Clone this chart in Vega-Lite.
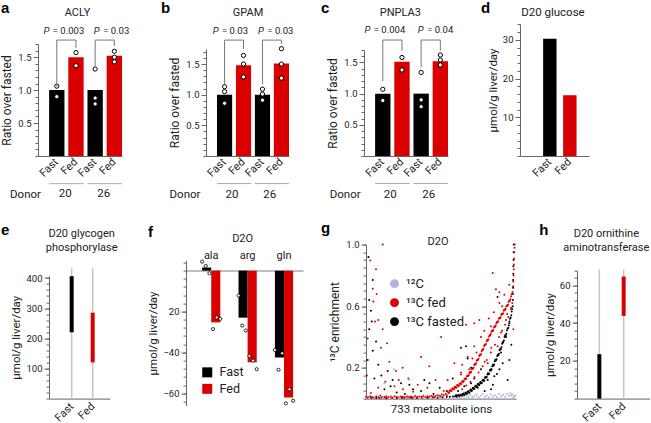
{
"$schema":"https://vega.github.io/schema/vega-lite/v6.json",
"padding":0,
"background":"white",
"config":{
 "font":"Roboto",
 "view":{"stroke":null},
 "axis":{"labelFont":"Roboto","titleFont":"Roboto","labelFontSize":9.5,"titleFontSize":12,"titleFontWeight":"normal","labelColor":"#222","titleColor":"#222","domainColor":"#666","tickColor":"#666","grid":false,"labelPadding":2,"titlePadding":4,"labelOverlap":false},
 "axisX":{"labelFontSize":11},
 "text":{"font":"Roboto","fontSize":10,"color":"#222"},
 "legend":{"labelFont":"Roboto","labelColor":"#222","padding":0}
},
"spacing":19.6,
"bounds":"full",
"resolve":{"scale":{"color":"independent","x":"independent","y":"independent"}},
"vconcat":[
{"hconcat":[
{
 "width":168,"height":132,
 "resolve":{"axis":{"y":"independent"}},
 "layer":[
 {"layer":[
  {"data":{"values":[{"k":"Fast 20","c":"Fast","v":1.0},{"k":"Fed 20","c":"Fed","v":1.5},{"k":"Fast 26","c":"Fast","v":1.0},{"k":"Fed 26","c":"Fed","v":1.52}]},
   "mark":{"type":"bar"},
   "encoding":{
    "x":{"field":"k","type":"nominal","scale":{"type":"band","domain":["Fast 20","Fed 20","Fast 26","Fed 26"],"range":[0,84],"paddingInner":0.2,"paddingOuter":0.29,"align":1},
     "axis":{"title":"Donor","titleX":-13,"titleY":38.5,"titleAngle":0,"titleAlign":"center","titleBaseline":"middle","titleFontSize":11.5,"labelExpr":"split(datum.label,' ')[0]","labelAngle":-45,"labelAlign":"right","labelBaseline":"middle","labelPadding":4,"ticks":false}},
    "y":{"field":"v","type":"quantitative","scale":{"domain":[0,1.7],"range":[132,20],"nice":false},
     "axis":{"orient":"left","title":"Ratio over fasted","values":[0.5,1,1.5],"format":".1f","tickSize":5}},
    "color":{"field":"c","type":"nominal","scale":{"domain":["Fast","Fed"],"range":["#000000","#d90000"]},"legend":null}
   }},
  {"data":{"values":[{"k":"Fast 20","v":1.06},{"k":"Fast 20","v":0.9},{"k":"Fed 20","v":1.57},{"k":"Fed 20","v":1.37},{"k":"Fast 26","v":1.32},{"k":"Fast 26","v":0.88},{"k":"Fast 26","v":0.79},{"k":"Fed 26","v":1.59},{"k":"Fed 26","v":1.5},{"k":"Fed 26","v":1.43}]},
   "mark":{"type":"point","shape":"circle","filled":true,"fill":"#ffffff","stroke":"#000000","strokeWidth":1,"size":18,"opacity":1},
   "encoding":{"x":{"field":"k","type":"nominal"},"y":{"field":"v","type":"quantitative"}}},
  {"data":{"values":[{"b":1,"o":1,"k":"Fast 20","v":1.05},{"b":1,"o":2,"k":"Fast 20","v":1.76},{"b":1,"o":3,"k":"Fed 20","v":1.76},{"b":1,"o":4,"k":"Fed 20","v":1.64},{"b":2,"o":1,"k":"Fast 26","v":1.36},{"b":2,"o":2,"k":"Fast 26","v":1.76},{"b":2,"o":3,"k":"Fed 26","v":1.76},{"b":2,"o":4,"k":"Fed 26","v":1.67}]},
   "mark":{"type":"line","color":"#777777","strokeWidth":1},
   "encoding":{"x":{"field":"k","type":"nominal"},"y":{"field":"v","type":"quantitative"},"detail":{"field":"b","type":"nominal"},"order":{"field":"o","type":"quantitative"}}},
  {"data":{"values":[{"k":"Fed 20"}]},"mark":{"type":"text","text":"P","fontStyle":"italic","align":"right","baseline":"middle","dx":-19,"fontSize":9.5},"encoding":{"x":{"field":"k","type":"nominal","bandPosition":0},"y":{"datum":1.9}}},
  {"data":{"values":[{"k":"Fed 20","t":"= 0.003"}]},"mark":{"type":"text","align":"left","baseline":"middle","dx":-15.5,"fontSize":9.5},"encoding":{"x":{"field":"k","type":"nominal","bandPosition":0},"y":{"datum":1.9},"text":{"field":"t"}}},
  {"data":{"values":[{"k":"Fed 26"}]},"mark":{"type":"text","text":"P","fontStyle":"italic","align":"right","baseline":"middle","dx":-7,"fontSize":9.5},"encoding":{"x":{"field":"k","type":"nominal","bandPosition":0},"y":{"datum":1.9}}},
  {"data":{"values":[{"k":"Fed 26","t":"= 0.03"}]},"mark":{"type":"text","align":"left","baseline":"middle","dx":-3.5,"fontSize":9.5},"encoding":{"x":{"field":"k","type":"nominal","bandPosition":0},"y":{"datum":1.9},"text":{"field":"t"}}},
  {"data":{"values":[{"k":"Fed 20","t":"ACLY"}]},"mark":{"type":"text","align":"center","baseline":"middle","fontSize":11},"encoding":{"x":{"field":"k","type":"nominal","bandPosition":0.6},"y":{"datum":2.17},"text":{"field":"t"}}},
  {"data":{"values":[{"k":"Fast 20","t":"a"}]},"mark":{"type":"text","align":"left","baseline":"alphabetic","dx":-48.1,"font":"Liberation Sans","fontSize":15,"fontWeight":"bold","color":"#000000"},"encoding":{"x":{"field":"k","type":"nominal","bandPosition":0},"y":{"datum":2.175},"text":{"field":"t"}}},
  {"data":{"values":[{"k":"Fast 20","k2":"Fed 20"},{"k":"Fast 26","k2":"Fed 26"}]},"mark":{"type":"rule","color":"#aaaaaa","strokeWidth":1},"encoding":{"x":{"field":"k","type":"nominal","bandPosition":0},"x2":{"field":"k2","bandPosition":1},"y":{"datum":-0.42}}},
  {"data":{"values":[{"k":"Fed 20","t":"20"},{"k":"Fed 26","t":"26"}]},"mark":{"type":"text","align":"center","baseline":"middle","fontSize":11.5,"dx":-3},"encoding":{"x":{"field":"k","type":"nominal","bandPosition":0},"y":{"datum":-0.58},"text":{"field":"t"}}}
 ]},
 {"data":{"values":[{"v":0}]},"mark":{"type":"point","opacity":0},"encoding":{"y":{"field":"v","type":"quantitative","axis":{"orient":"left","values":[0,0.1,0.2,0.3,0.4,0.5,0.6,0.7,0.8,0.9,1,1.1,1.2,1.3,1.4,1.5,1.6,1.7],"labels":false,"domain":false,"title":null,"tickSize":3}}}}
 ]
},
{
 "width":158,"height":132,
 "resolve":{"axis":{"y":"independent"}},
 "layer":[
 {"layer":[
  {"data":{"values":[{"k":"Fast 20","c":"Fast","v":1.0},{"k":"Fed 20","c":"Fed","v":1.48},{"k":"Fast 26","c":"Fast","v":1.0},{"k":"Fed 26","c":"Fed","v":1.51}]},
   "mark":{"type":"bar"},
   "encoding":{
    "x":{"field":"k","type":"nominal","scale":{"type":"band","domain":["Fast 20","Fed 20","Fast 26","Fed 26"],"range":[0,83],"paddingInner":0.2,"paddingOuter":0.29,"align":1},
     "axis":{"title":"Donor","titleX":-21.5,"titleY":38.5,"titleAngle":0,"titleAlign":"center","titleBaseline":"middle","titleFontSize":11.5,"labelExpr":"split(datum.label,' ')[0]","labelAngle":-45,"labelAlign":"right","labelBaseline":"middle","labelPadding":4,"ticks":false}},
    "y":{"field":"v","type":"quantitative","scale":{"domain":[0,1.745],"range":[132,25],"nice":false},
     "axis":{"orient":"left","title":"Ratio over fasted","values":[0.5,1,1.5],"format":".1f","tickSize":5}},
    "color":{"field":"c","type":"nominal","scale":{"domain":["Fast","Fed"],"range":["#000000","#d90000"]},"legend":null}
   }},
  {"data":{"values":[{"k":"Fast 20","v":1.13},{"k":"Fast 20","v":1.05},{"k":"Fast 20","v":0.86},{"k":"Fed 20","v":1.64},{"k":"Fed 20","v":1.5},{"k":"Fed 20","v":1.29},{"k":"Fast 26","v":1.09},{"k":"Fast 26","v":1.01},{"k":"Fast 26","v":0.91},{"k":"Fed 26","v":1.75},{"k":"Fed 26","v":1.5},{"k":"Fed 26","v":1.27}]},
   "mark":{"type":"point","shape":"circle","filled":true,"fill":"#ffffff","stroke":"#000000","strokeWidth":1,"size":18,"opacity":1},
   "encoding":{"x":{"field":"k","type":"nominal"},"y":{"field":"v","type":"quantitative"}}},
  {"data":{"values":[{"b":1,"o":1,"k":"Fast 20","v":1.17},{"b":1,"o":2,"k":"Fast 20","v":1.89},{"b":1,"o":3,"k":"Fed 20","v":1.89},{"b":1,"o":4,"k":"Fed 20","v":1.745},{"b":2,"o":1,"k":"Fast 26","v":1.17},{"b":2,"o":2,"k":"Fast 26","v":1.89},{"b":2,"o":3,"k":"Fed 26","v":1.89},{"b":2,"o":4,"k":"Fed 26","v":1.83}]},
   "mark":{"type":"line","color":"#777777","strokeWidth":1},
   "encoding":{"x":{"field":"k","type":"nominal"},"y":{"field":"v","type":"quantitative"},"detail":{"field":"b","type":"nominal"},"order":{"field":"o","type":"quantitative"}}},
  {"data":{"values":[{"k":"Fed 20"}]},"mark":{"type":"text","text":"P","fontStyle":"italic","align":"right","baseline":"middle","dx":-17.5,"fontSize":9.5},"encoding":{"x":{"field":"k","type":"nominal","bandPosition":0},"y":{"datum":2.04}}},
  {"data":{"values":[{"k":"Fed 20","t":"= 0.03"}]},"mark":{"type":"text","align":"left","baseline":"middle","dx":-14,"fontSize":9.5},"encoding":{"x":{"field":"k","type":"nominal","bandPosition":0},"y":{"datum":2.04},"text":{"field":"t"}}},
  {"data":{"values":[{"k":"Fed 26"}]},"mark":{"type":"text","text":"P","fontStyle":"italic","align":"right","baseline":"middle","dx":-10,"fontSize":9.5},"encoding":{"x":{"field":"k","type":"nominal","bandPosition":0},"y":{"datum":2.04}}},
  {"data":{"values":[{"k":"Fed 26","t":"= 0.03"}]},"mark":{"type":"text","align":"left","baseline":"middle","dx":-6.5,"fontSize":9.5},"encoding":{"x":{"field":"k","type":"nominal","bandPosition":0},"y":{"datum":2.04},"text":{"field":"t"}}},
  {"data":{"values":[{"k":"Fed 20","t":"GPAM"}]},"mark":{"type":"text","align":"center","baseline":"middle","fontSize":11},"encoding":{"x":{"field":"k","type":"nominal","bandPosition":0.8},"y":{"datum":2.33},"text":{"field":"t"}}},
  {"data":{"values":[{"k":"Fast 20","t":"b"}]},"mark":{"type":"text","align":"left","baseline":"alphabetic","dx":-56,"font":"Liberation Sans","fontSize":15,"fontWeight":"bold","color":"#000000"},"encoding":{"x":{"field":"k","type":"nominal","bandPosition":0},"y":{"datum":2.338},"text":{"field":"t"}}},
  {"data":{"values":[{"k":"Fast 20","k2":"Fed 20"},{"k":"Fast 26","k2":"Fed 26"}]},"mark":{"type":"rule","color":"#aaaaaa","strokeWidth":1},"encoding":{"x":{"field":"k","type":"nominal","bandPosition":0},"x2":{"field":"k2","bandPosition":1},"y":{"datum":-0.45}}},
  {"data":{"values":[{"k":"Fed 20","t":"20"},{"k":"Fed 26","t":"26"}]},"mark":{"type":"text","align":"center","baseline":"middle","fontSize":11.5,"dx":-4},"encoding":{"x":{"field":"k","type":"nominal","bandPosition":0},"y":{"datum":-0.63},"text":{"field":"t"}}}
 ]},
 {"data":{"values":[{"v":0}]},"mark":{"type":"point","opacity":0},"encoding":{"y":{"field":"v","type":"quantitative","axis":{"orient":"left","values":[0,0.1,0.2,0.3,0.4,0.5,0.6,0.7,0.8,0.9,1,1.1,1.2,1.3,1.4,1.5,1.6,1.7],"labels":false,"domain":false,"title":null,"tickSize":3}}}}
 ]
},
{
 "width":156,"height":132,
 "resolve":{"axis":{"y":"independent"}},
 "layer":[
 {"layer":[
  {"data":{"values":[{"k":"Fast 20","c":"Fast","v":1.0},{"k":"Fed 20","c":"Fed","v":1.51},{"k":"Fast 26","c":"Fast","v":1.0},{"k":"Fed 26","c":"Fed","v":1.52}]},
   "mark":{"type":"bar"},
   "encoding":{
    "x":{"field":"k","type":"nominal","scale":{"type":"band","domain":["Fast 20","Fed 20","Fast 26","Fed 26"],"range":[0,84],"paddingInner":0.2,"paddingOuter":0.29,"align":1},
     "axis":{"title":"Donor","titleX":-19.3,"titleY":38.5,"titleAngle":0,"titleAlign":"center","titleBaseline":"middle","titleFontSize":11.5,"labelExpr":"split(datum.label,' ')[0]","labelAngle":-45,"labelAlign":"right","labelBaseline":"middle","labelPadding":4,"ticks":false}},
    "y":{"field":"v","type":"quantitative","scale":{"domain":[0,1.7],"range":[132,26],"nice":false},
     "axis":{"orient":"left","title":"Ratio over fasted","values":[0.5,1,1.5],"format":".1f","tickSize":5}},
    "color":{"field":"c","type":"nominal","scale":{"domain":["Fast","Fed"],"range":["#000000","#d90000"]},"legend":null}
   }},
  {"data":{"values":[{"k":"Fast 20","v":1.07},{"k":"Fast 20","v":0.89},{"k":"Fed 20","v":1.58},{"k":"Fed 20","v":1.38},{"k":"Fast 26","v":1.34},{"k":"Fast 26","v":0.9},{"k":"Fast 26","v":0.79},{"k":"Fed 26","v":1.62},{"k":"Fed 26","v":1.54},{"k":"Fed 26","v":1.46}]},
   "mark":{"type":"point","shape":"circle","filled":true,"fill":"#ffffff","stroke":"#000000","strokeWidth":1,"size":18,"opacity":1},
   "encoding":{"x":{"field":"k","type":"nominal"},"y":{"field":"v","type":"quantitative"}}},
  {"data":{"values":[{"b":1,"o":1,"k":"Fast 20","v":1.2},{"b":1,"o":2,"k":"Fast 20","v":1.86},{"b":1,"o":3,"k":"Fed 20","v":1.86},{"b":1,"o":4,"k":"Fed 20","v":1.69},{"b":2,"o":1,"k":"Fast 26","v":1.42},{"b":2,"o":2,"k":"Fast 26","v":1.86},{"b":2,"o":3,"k":"Fed 26","v":1.86},{"b":2,"o":4,"k":"Fed 26","v":1.69}]},
   "mark":{"type":"line","color":"#777777","strokeWidth":1},
   "encoding":{"x":{"field":"k","type":"nominal"},"y":{"field":"v","type":"quantitative"},"detail":{"field":"b","type":"nominal"},"order":{"field":"o","type":"quantitative"}}},
  {"data":{"values":[{"k":"Fed 20"}]},"mark":{"type":"text","text":"P","fontStyle":"italic","align":"right","baseline":"middle","dx":-24,"fontSize":9.5},"encoding":{"x":{"field":"k","type":"nominal","bandPosition":0},"y":{"datum":2.02}}},
  {"data":{"values":[{"k":"Fed 20","t":"= 0.004"}]},"mark":{"type":"text","align":"left","baseline":"middle","dx":-20.5,"fontSize":9.5},"encoding":{"x":{"field":"k","type":"nominal","bandPosition":0},"y":{"datum":2.02},"text":{"field":"t"}}},
  {"data":{"values":[{"k":"Fed 26"}]},"mark":{"type":"text","text":"P","fontStyle":"italic","align":"right","baseline":"middle","dx":-9,"fontSize":9.5},"encoding":{"x":{"field":"k","type":"nominal","bandPosition":0},"y":{"datum":2.02}}},
  {"data":{"values":[{"k":"Fed 26","t":"= 0.04"}]},"mark":{"type":"text","align":"left","baseline":"middle","dx":-5.5,"fontSize":9.5},"encoding":{"x":{"field":"k","type":"nominal","bandPosition":0},"y":{"datum":2.02},"text":{"field":"t"}}},
  {"data":{"values":[{"k":"Fed 20","t":"PNPLA3"}]},"mark":{"type":"text","align":"center","baseline":"middle","fontSize":11},"encoding":{"x":{"field":"k","type":"nominal","bandPosition":0.39},"y":{"datum":2.3},"text":{"field":"t"}}},
  {"data":{"values":[{"k":"Fast 20","t":"c"}]},"mark":{"type":"text","align":"left","baseline":"alphabetic","dx":-54.1,"font":"Liberation Sans","fontSize":15,"fontWeight":"bold","color":"#000000"},"encoding":{"x":{"field":"k","type":"nominal","bandPosition":0},"y":{"datum":2.298},"text":{"field":"t"}}},
  {"data":{"values":[{"k":"Fast 20","k2":"Fed 20"},{"k":"Fast 26","k2":"Fed 26"}]},"mark":{"type":"rule","color":"#aaaaaa","strokeWidth":1},"encoding":{"x":{"field":"k","type":"nominal","bandPosition":0},"x2":{"field":"k2","bandPosition":1},"y":{"datum":-0.44}}},
  {"data":{"values":[{"k":"Fed 20","t":"20"},{"k":"Fed 26","t":"26"}]},"mark":{"type":"text","align":"center","baseline":"middle","fontSize":11.5,"dx":-4},"encoding":{"x":{"field":"k","type":"nominal","bandPosition":0},"y":{"datum":-0.62},"text":{"field":"t"}}}
 ]},
 {"data":{"values":[{"v":0}]},"mark":{"type":"point","opacity":0},"encoding":{"y":{"field":"v","type":"quantitative","axis":{"orient":"left","values":[0,0.1,0.2,0.3,0.4,0.5,0.6,0.7,0.8,0.9,1,1.1,1.2,1.3,1.4,1.5,1.6,1.7],"labels":false,"domain":false,"title":null,"tickSize":3}}}}
 ]
},
{
 "width":69,"height":132,
 "resolve":{"axis":{"y":"independent"}},
 "layer":[
 {"layer":[
  {"data":{"values":[{"c":"Fast","v":30.3},{"c":"Fed","v":15.7}]},
   "mark":{"type":"bar"},
   "encoding":{
    "x":{"field":"c","type":"nominal","scale":{"type":"band","domain":["Fast","Fed"],"range":[0,69],"paddingInner":0.33,"paddingOuter":0.89,"align":0.65},"axis":{"title":null,"labelAngle":-45,"labelAlign":"right","labelBaseline":"middle","labelPadding":4,"ticks":false}},
    "y":{"field":"v","type":"quantitative","scale":{"domain":[0,34.1],"range":[132,0],"nice":false},
     "axis":{"orient":"left","title":"μmol/g liver/day","titleFontSize":11.5,"values":[10,20,30],"tickSize":5}},
    "color":{"field":"c","type":"nominal","scale":{"domain":["Fast","Fed"],"range":["#000000","#d90000"]},"legend":null}
   }},
  {"data":{"values":[{"c":"Fast","t":"D20 glucose"}]},"mark":{"type":"text","align":"left","baseline":"middle","dx":-22,"fontSize":11.5},"encoding":{"x":{"field":"c","type":"nominal","bandPosition":0},"y":{"datum":37},"text":{"field":"t"}}},
  {"data":{"values":[{"c":"Fast","t":"d"}]},"mark":{"type":"text","align":"left","baseline":"alphabetic","dx":-62.1,"font":"Liberation Sans","fontSize":15,"fontWeight":"bold","color":"#000000"},"encoding":{"x":{"field":"c","type":"nominal","bandPosition":0},"y":{"datum":37.02},"text":{"field":"t"}}}
 ]},
 {"data":{"values":[{"v":0}]},"mark":{"type":"point","opacity":0},"encoding":{"y":{"field":"v","type":"quantitative","axis":{"orient":"left","values":[0,2,4,6,8,10,12,14,16,18,20,22,24,26,28,30,32,34],"labels":false,"domain":false,"title":null,"tickSize":3}}}}
 ]
}
],"spacing":0,"bounds":"flush","resolve":{"scale":{"color":"independent","x":"independent","y":"independent"}}},
{"hconcat":[
{
 "width":148,"height":154,
 "resolve":{"axis":{"y":"independent"}},
 "layer":[
 {"layer":[
  {"data":{"values":[{"c":"Fast"},{"c":"Fed"}]},"mark":{"type":"rule","color":"#c4c4c4","strokeWidth":1.5},
   "encoding":{
    "x":{"field":"c","type":"nominal","scale":{"type":"point","domain":["Fast","Fed"],"range":[11,72],"padding":0.952,"align":0.567},"axis":{"title":null,"labelAngle":-45,"labelAlign":"right","labelBaseline":"middle","labelPadding":6,"ticks":false}},
    "y":{"datum":0,"type":"quantitative","scale":{"domain":[0,407],"range":[154,31.3],"nice":false},
     "axis":{"orient":"left","title":"μmol/g liver/day","titleFontSize":11.5,"offset":-11,"values":[100,200,300,400],"tickSize":5}},
    "y2":{"datum":432}}},
  {"data":{"values":[{"c":"Fast","lo":220,"hi":406},{"c":"Fed","lo":120,"hi":285}]},"mark":{"type":"rule","strokeWidth":4},
   "encoding":{"x":{"field":"c","type":"nominal"},"y":{"field":"lo","type":"quantitative"},"y2":{"field":"hi"},"color":{"field":"c","type":"nominal","scale":{"domain":["Fast","Fed"],"range":["#000000","#d90000"]},"legend":null}}},
  {"data":{"values":[{"c":"Fast","t":"D20 glycogen\nphosphorylase"}]},"mark":{"type":"text","lineBreak":"\n","align":"center","baseline":"middle","dx":10,"fontSize":11,"lineHeight":13.5},"encoding":{"x":{"field":"c","type":"nominal"},"y":{"datum":545},"text":{"field":"t"}}},
  {"data":{"values":[{"c":"Fast","t":"e"}]},"mark":{"type":"text","align":"left","baseline":"alphabetic","dx":-70.7,"font":"Liberation Sans","fontSize":15,"fontWeight":"bold","color":"#000000"},"encoding":{"x":{"field":"c","type":"nominal"},"y":{"datum":544},"text":{"field":"t"}}}
 ]},
 {"data":{"values":[{"v":0}]},"mark":{"type":"point","opacity":0},"encoding":{"y":{"field":"v","type":"quantitative","axis":{"orient":"left","offset":-11,"values":[0,20,40,60,80,100,120,140,160,180,200,220,240,260,280,300,320,340,360,380,400],"labels":false,"domain":false,"title":null,"tickSize":3}}}}
 ]
},
{
 "width":180,"height":161,
 "resolve":{"axis":{"y":"independent"}},
 "layer":[
 {"resolve":{"scale":{"xOffset":"independent"}},
  "layer":[
  {"data":{"values":[{"aa":"ala","c":"Fast","v":1.5},{"aa":"ala","c":"Fed","v":-25.3},{"aa":"arg","c":"Fast","v":-23},{"aa":"arg","c":"Fed","v":-44.8},{"aa":"gln","c":"Fast","v":-42.5},{"aa":"gln","c":"Fed","v":-62}]},
   "mark":{"type":"bar"},
   "encoding":{
    "x":{"field":"aa","type":"nominal","scale":{"type":"band","domain":["ala","arg","gln"],"range":[0,117],"paddingInner":0.5,"paddingOuter":0.357,"align":0.62},"axis":{"orient":"top","offset":-26,"title":null,"ticks":false,"labelPadding":10,"labelAngle":0,"domainColor":"#aaaaaa","domainWidth":1.5}},
    "xOffset":{"field":"c","type":"nominal","scale":{"domain":["Fast","Fed"],"paddingInner":0,"paddingOuter":0}},
    "y":{"field":"v","type":"quantitative","scale":{"domain":[-66,5],"range":[161,15.8],"nice":false},
     "axis":{"orient":"left","title":"μmol/g liver/day","titleFontSize":11.5,"values":[-60,-40,-20],"labelExpr":"datum.value==-20 ? '20' : format(datum.value,'d')","tickSize":5}},
    "color":{"field":"c","type":"nominal","scale":{"domain":["Fast","Fed"],"range":["#000000","#d90000"]},"legend":{"orient":"none","legendX":15,"legendY":121.5,"title":null,"symbolType":"square","symbolSize":100,"symbolStrokeWidth":0,"labelFontSize":12.5,"rowPadding":3.5,"labelOffset":6}}
   }},
  {"data":{"values":[{"aa":"ala","cr":"Fast1","v":4.4},{"aa":"ala","cr":"Fast2","v":2.3},{"aa":"ala","cr":"Fast3","v":-1.3},{"aa":"ala","cr":"Fed1","v":-28.6},{"aa":"ala","cr":"Fed2","v":-22.9},{"aa":"ala","cr":"Fed3","v":-23.6},{"aa":"arg","cr":"Fast1","v":-12.2},{"aa":"arg","cr":"Fast2","v":-26.9},{"aa":"arg","cr":"Fast3","v":-29.3},{"aa":"arg","cr":"Fed1","v":-41.7},{"aa":"arg","cr":"Fed2","v":-44},{"aa":"arg","cr":"Fed3","v":-48.2},{"aa":"gln","cr":"Fast1","v":-38.8},{"aa":"gln","cr":"Fast2","v":-48.5},{"aa":"gln","cr":"Fast3","v":-40.4},{"aa":"gln","cr":"Fed1","v":-64.9},{"aa":"gln","cr":"Fed2","v":-58},{"aa":"gln","cr":"Fed3","v":-63.6}]},
   "mark":{"type":"point","shape":"circle","filled":true,"fill":"#ffffff","stroke":"#000000","strokeWidth":0.8,"size":10,"opacity":1},
   "encoding":{"x":{"field":"aa","type":"nominal"},"xOffset":{"field":"cr","type":"nominal","scale":{"domain":["Fast1","Fast2","Fast3","Fed1","Fed2","Fed3"],"paddingInner":0,"paddingOuter":0}},"y":{"field":"v","type":"quantitative"}}},
  {"data":{"values":[{"aa":"arg","t":"D2O"}]},"mark":{"type":"text","align":"center","baseline":"middle","fontSize":11,"dx":-5},"encoding":{"x":{"field":"aa","type":"nominal"},"y":{"datum":15.6},"text":{"field":"t"}}},
  {"data":{"values":[{"aa":"ala","t":"f"}]},"mark":{"type":"text","align":"left","baseline":"alphabetic","dx":-54.1,"font":"Liberation Sans","fontSize":15,"fontWeight":"bold","color":"#000000"},"encoding":{"x":{"field":"aa","type":"nominal","bandPosition":0},"y":{"datum":16.6},"text":{"field":"t"}}}
 ]},
 {"data":{"values":[{"v":0}]},"mark":{"type":"point","opacity":0},"encoding":{"y":{"field":"v","type":"quantitative","axis":{"orient":"left","values":[-64,-60,-56,-52,-48,-44,-40,-36,-32,-28,-24,-20,-16,-12,-8,-4,0,4],"labels":false,"domain":false,"title":null,"tickSize":3}}}}
 ]
},
{
 "width":211,"height":154,
 "resolve":{"axis":{"y":"independent"}},
 "layer":[
 {"layer":[
  {"data":{"values":[
{"r":33,"v":0.77},{"r":16,"v":0.64},{"r":24,"v":0.57},{"r":16,"v":0.45},{"r":49,"v":0.37},{"r":33,"v":0.31},{"r":106,"v":0.18},{"r":41,"v":0.13},{"r":130,"v":0.12},{"r":171,"v":0.1},{"r":212,"v":0.09},{"r":285,"v":0.12},{"r":424,"v":0.13},{"r":90,"v":0.06},{"r":269,"v":0.05},{"r":8,"v":0.25},{"r":60,"v":0.22},{"r":150,"v":0.04},{"r":190,"v":0.03},{"r":230,"v":0.06},{"r":330,"v":0.03},{"r":360,"v":0.07},{"r":395,"v":0.05},{"r":12,"v":0.92},{"r":28,"v":0.5},{"r":75,"v":0.15},{"r":120,"v":0.08},{"r":310,"v":0.1},
{"r":0,"v":0.003},{"r":25,"v":0.005},{"r":50,"v":0.004},{"r":75,"v":0.006},{"r":100,"v":0.003},{"r":125,"v":0.005},{"r":150,"v":0.004},{"r":175,"v":0.006},{"r":200,"v":0.003},{"r":225,"v":0.005},{"r":250,"v":0.004},{"r":275,"v":0.006},{"r":300,"v":0.005},{"r":325,"v":0.007},{"r":350,"v":0.006},{"r":375,"v":0.009},{"r":395,"v":0.01},{"r":410,"v":0.012},{"r":425,"v":0.013},{"r":435,"v":0.016},
{"r":440,"v":0.021},{"r":446,"v":0.013},{"r":452,"v":0.024},{"r":458,"v":0.015},{"r":464,"v":0.026},{"r":470,"v":0.018},{"r":476,"v":0.033},{"r":482,"v":0.025},{"r":488,"v":0.04},{"r":494,"v":0.031},{"r":500,"v":0.047},{"r":506,"v":0.04},{"r":512,"v":0.059},{"r":518,"v":0.052},{"r":524,"v":0.071},{"r":530,"v":0.064},{"r":536,"v":0.084},{"r":542,"v":0.077},{"r":548,"v":0.096},{"r":554,"v":0.088},{"r":560,"v":0.108},{"r":566,"v":0.102},{"r":572,"v":0.123},{"r":578,"v":0.117},{"r":584,"v":0.141},{"r":590,"v":0.14},{"r":596,"v":0.164},{"r":602,"v":0.163},{"r":608,"v":0.189},{"r":614,"v":0.19},{"r":620,"v":0.219},{"r":626,"v":0.222},{"r":632,"v":0.252},{"r":638,"v":0.255},{"r":644,"v":0.285},{"r":650,"v":0.291},{"r":656,"v":0.324},{"r":662,"v":0.333},{"r":668,"v":0.368},{"r":674,"v":0.377},{"r":680,"v":0.412},{"r":686,"v":0.421},{"r":692,"v":0.455},{"r":698,"v":0.474},{"r":704,"v":0.519},{"r":710,"v":0.542},{"r":714,"v":0.582},{"r":717,"v":0.6},
{"r":443,"v":0.012},{"r":449,"v":0.02},{"r":455,"v":0.014},{"r":461,"v":0.024},{"r":467,"v":0.017},{"r":473,"v":0.03},{"r":479,"v":0.024},{"r":485,"v":0.037},{"r":491,"v":0.031},{"r":497,"v":0.044},{"r":503,"v":0.038},{"r":509,"v":0.055},{"r":515,"v":0.05},{"r":521,"v":0.067},{"r":527,"v":0.062},{"r":533,"v":0.079},{"r":539,"v":0.075},{"r":545,"v":0.091},{"r":551,"v":0.087},{"r":557,"v":0.103},{"r":563,"v":0.1},{"r":569,"v":0.118},{"r":575,"v":0.115},{"r":581,"v":0.135},{"r":587,"v":0.135},{"r":593,"v":0.157},{"r":599,"v":0.158},{"r":605,"v":0.182},{"r":611,"v":0.183},{"r":617,"v":0.21},{"r":623,"v":0.214},{"r":629,"v":0.243},{"r":635,"v":0.247},{"r":641,"v":0.276},{"r":647,"v":0.281},{"r":653,"v":0.314},{"r":659,"v":0.321},{"r":665,"v":0.356},{"r":671,"v":0.365},{"r":677,"v":0.4},{"r":683,"v":0.41},{"r":689,"v":0.444},{"r":695,"v":0.459},{"r":701,"v":0.5},{"r":707,"v":0.526},{"r":712,"v":0.565},
{"r":718,"v":0.64},{"r":718,"v":0.68},{"r":719,"v":0.72},{"r":719,"v":0.77},{"r":720,"v":0.81},{"r":720,"v":0.86},{"r":721,"v":0.9},{"r":721,"v":0.95},{"r":722,"v":1.0},
{"r":464,"v":0.33},{"r":497,"v":0.26},{"r":513,"v":0.2},{"r":529,"v":0.13},{"r":562,"v":0.1},{"r":489,"v":0.34},{"r":562,"v":0.19},{"r":595,"v":0.12},{"r":627,"v":0.145},{"r":652,"v":0.19},{"r":668,"v":0.23},{"r":643,"v":0.66},{"r":513,"v":0.1},{"r":684,"v":0.4},{"r":700,"v":0.49},{"r":611,"v":0.06},{"r":546,"v":0.07},{"r":692,"v":0.12},{"r":660,"v":0.3},{"r":580,"v":0.05},{"r":620,"v":0.09},{"r":640,"v":0.16},{"r":700,"v":0.25},{"r":710,"v":0.35},{"r":450,"v":0.05},{"r":480,"v":0.08}
  ]},
   "mark":{"type":"point","filled":true,"shape":"circle","size":4,"opacity":1,"strokeWidth":0},
   "encoding":{
    "x":{"field":"r","type":"quantitative","scale":{"domain":[0,733],"range":[0,150],"nice":false},"axis":{"title":"733 metabolite ions","labels":false,"ticks":false,"titlePadding":5,"titleFontSize":11.5}},
    "y":{"field":"v","type":"quantitative","scale":{"domain":[0,1],"range":[154,0],"nice":false},
     "axis":{"orient":"left","title":"¹³C enrichment","values":[0.2,0.4,0.6,0.8,1],"format":".1f","tickSize":5}},
    "color":{"datum":"k","type":"nominal","scale":{"domain":["p","f","k"],"range":["#b4b0dc","#e00000","#000000"]},"legend":{"orient":"none","legendX":22,"legendY":32.5,"title":null,"symbolType":"circle","symbolSize":80,"symbolStrokeWidth":0,"labelFontSize":13,"rowPadding":5,"labelOffset":5,"labelExpr":"datum.label=='p' ? '¹²C' : (datum.label=='f' ? '¹³C fed' : '¹³C fasted')"}}
   }},
  {"data":{"values":[
{"r":0,"v":0.012},{"r":10,"v":0.008},{"r":20,"v":0.015},{"r":30,"v":0.01},{"r":40,"v":0.006},{"r":50,"v":0.014},{"r":60,"v":0.01},{"r":70,"v":0.018},{"r":80,"v":0.008},{"r":90,"v":0.012},{"r":100,"v":0.015},{"r":110,"v":0.009},{"r":120,"v":0.013},{"r":130,"v":0.007},{"r":140,"v":0.016},{"r":150,"v":0.011},{"r":160,"v":0.009},{"r":170,"v":0.014},{"r":180,"v":0.012},{"r":190,"v":0.008},{"r":200,"v":0.016},{"r":210,"v":0.01},{"r":220,"v":0.013},{"r":230,"v":0.009},{"r":240,"v":0.017},{"r":250,"v":0.011},{"r":260,"v":0.014},{"r":270,"v":0.012},{"r":280,"v":0.018},{"r":290,"v":0.01},{"r":300,"v":0.015},{"r":310,"v":0.013},{"r":320,"v":0.019},{"r":330,"v":0.014},{"r":340,"v":0.017},{"r":350,"v":0.022},{"r":360,"v":0.018},{"r":370,"v":0.026},{"r":380,"v":0.024},{"r":390,"v":0.03},
{"r":5,"v":0.004},{"r":35,"v":0.005},{"r":65,"v":0.003},{"r":95,"v":0.005},{"r":125,"v":0.004},{"r":155,"v":0.006},{"r":185,"v":0.004},{"r":215,"v":0.005},{"r":245,"v":0.006},{"r":275,"v":0.005},{"r":305,"v":0.007},{"r":335,"v":0.009},{"r":365,"v":0.012},{"r":395,"v":0.02},
{"r":400,"v":0.045},{"r":406,"v":0.04},{"r":412,"v":0.055},{"r":418,"v":0.051},{"r":424,"v":0.067},{"r":430,"v":0.063},{"r":436,"v":0.077},{"r":442,"v":0.072},{"r":448,"v":0.088},{"r":454,"v":0.084},{"r":460,"v":0.1},{"r":466,"v":0.096},{"r":472,"v":0.114},{"r":478,"v":0.113},{"r":484,"v":0.131},{"r":490,"v":0.13},{"r":496,"v":0.15},{"r":502,"v":0.152},{"r":508,"v":0.173},{"r":514,"v":0.174},{"r":520,"v":0.197},{"r":526,"v":0.201},{"r":532,"v":0.225},{"r":538,"v":0.229},{"r":544,"v":0.253},{"r":550,"v":0.258},{"r":556,"v":0.284},{"r":562,"v":0.29},{"r":568,"v":0.317},{"r":574,"v":0.324},{"r":580,"v":0.35},{"r":586,"v":0.355},{"r":592,"v":0.38},{"r":598,"v":0.386},{"r":604,"v":0.412},{"r":610,"v":0.419},{"r":616,"v":0.442},{"r":622,"v":0.446},{"r":628,"v":0.47},{"r":634,"v":0.474},{"r":640,"v":0.498},{"r":646,"v":0.502},{"r":652,"v":0.525},{"r":658,"v":0.528},{"r":664,"v":0.551},{"r":670,"v":0.554},{"r":676,"v":0.578},{"r":682,"v":0.582},{"r":688,"v":0.605},{"r":694,"v":0.61},{"r":700,"v":0.635},{"r":706,"v":0.647},{"r":712,"v":0.68},{"r":716,"v":0.693},
{"r":403,"v":0.037},{"r":409,"v":0.052},{"r":415,"v":0.048},{"r":421,"v":0.064},{"r":427,"v":0.06},{"r":433,"v":0.075},{"r":439,"v":0.07},{"r":445,"v":0.086},{"r":451,"v":0.081},{"r":457,"v":0.097},{"r":463,"v":0.093},{"r":469,"v":0.11},{"r":475,"v":0.108},{"r":481,"v":0.127},{"r":487,"v":0.125},{"r":493,"v":0.145},{"r":499,"v":0.146},{"r":505,"v":0.167},{"r":511,"v":0.168},{"r":517,"v":0.19},{"r":523,"v":0.194},{"r":529,"v":0.218},{"r":535,"v":0.222},{"r":541,"v":0.246},{"r":547,"v":0.25},{"r":553,"v":0.276},{"r":559,"v":0.282},{"r":565,"v":0.308},{"r":571,"v":0.316},{"r":577,"v":0.342},{"r":583,"v":0.348},{"r":589,"v":0.372},{"r":595,"v":0.378},{"r":601,"v":0.404},{"r":607,"v":0.41},{"r":613,"v":0.434},{"r":619,"v":0.439},{"r":625,"v":0.462},{"r":631,"v":0.467},{"r":637,"v":0.49},{"r":643,"v":0.495},{"r":649,"v":0.518},{"r":655,"v":0.522},{"r":661,"v":0.544},{"r":667,"v":0.548},{"r":673,"v":0.571},{"r":679,"v":0.575},{"r":685,"v":0.598},{"r":691,"v":0.603},{"r":697,"v":0.627},{"r":703,"v":0.636},{"r":709,"v":0.665},
{"r":470,"v":0.06},{"r":490,"v":0.085},{"r":510,"v":0.11},{"r":530,"v":0.14},{"r":550,"v":0.17},{"r":570,"v":0.21},{"r":590,"v":0.25},{"r":610,"v":0.3},{"r":630,"v":0.35},{"r":650,"v":0.4},{"r":665,"v":0.44},{"r":680,"v":0.48},{"r":695,"v":0.53},{"r":710,"v":0.59},
{"r":719,"v":0.73},{"r":720,"v":0.76},{"r":721,"v":0.8},{"r":722,"v":0.84},{"r":723,"v":0.87},{"r":724,"v":0.91},{"r":725,"v":0.95},{"r":726,"v":0.98},{"r":727,"v":1.0},
{"r":82,"v":1.0},{"r":21,"v":0.896},{"r":49,"v":0.84},{"r":33,"v":0.714},{"r":52,"v":0.68},{"r":36,"v":0.63},{"r":60,"v":0.51},{"r":44,"v":0.5},{"r":82,"v":0.45},{"r":103,"v":0.36},{"r":8,"v":0.39},{"r":73,"v":0.33},{"r":114,"v":0.24},{"r":147,"v":0.18},{"r":179,"v":0.2},{"r":207,"v":0.13},{"r":269,"v":0.27},{"r":309,"v":0.21},{"r":367,"v":0.4},{"r":432,"v":0.23},{"r":464,"v":0.156},{"r":399,"v":0.12},{"r":253,"v":0.09},{"r":139,"v":0.08},{"r":24,"v":0.036},{"r":619,"v":0.815},{"r":652,"v":0.69},{"r":5,"v":0.15},{"r":95,"v":0.11},{"r":180,"v":0.06},{"r":230,"v":0.045},{"r":300,"v":0.07},{"r":340,"v":0.12},{"r":380,"v":0.05},{"r":60,"v":0.07},{"r":160,"v":0.12},
{"r":489,"v":0.48},{"r":529,"v":0.49},{"r":635,"v":0.71},{"r":562,"v":0.4},{"r":529,"v":0.34},{"r":578,"v":0.44},{"r":611,"v":0.47},{"r":652,"v":0.62},{"r":676,"v":0.675},{"r":700,"v":0.74},{"r":643,"v":0.34},{"r":660,"v":0.43},{"r":595,"v":0.23},{"r":464,"v":0.17},{"r":497,"v":0.27},{"r":554,"v":0.51},{"r":684,"v":0.51},{"r":708,"v":0.58},{"r":520,"v":0.26},{"r":540,"v":0.3},{"r":600,"v":0.52},{"r":625,"v":0.56},{"r":665,"v":0.6},{"r":690,"v":0.55},{"r":715,"v":0.62},{"r":470,"v":0.22},{"r":505,"v":0.19},{"r":580,"v":0.24},{"r":720,"v":0.45},{"r":612,"v":0.33}
  ]},
   "mark":{"type":"point","filled":true,"shape":"circle","size":4,"opacity":1,"strokeWidth":0},
   "encoding":{"x":{"field":"r","type":"quantitative"},"y":{"field":"v","type":"quantitative"},"color":{"datum":"f","type":"nominal"}}},
  {"data":{"values":[
{"r":0,"v":0.002},{"r":40,"v":0.003},{"r":80,"v":0.002},{"r":120,"v":0.004},{"r":160,"v":0.003},{"r":200,"v":0.002},{"r":240,"v":0.004},{"r":280,"v":0.003},{"r":320,"v":0.002},{"r":360,"v":0.004},{"r":400,"v":0.003},{"r":430,"v":0.005},{"r":137,"v":0.19},{"r":210,"v":0.12},{"r":90,"v":0.1},
{"r":450,"v":0.008},{"r":465,"v":0.012},{"r":480,"v":0.006},{"r":490,"v":0.018},{"r":500,"v":0.01},{"r":510,"v":0.022},{"r":520,"v":0.008},{"r":530,"v":0.015},{"r":540,"v":0.025},{"r":550,"v":0.01},{"r":560,"v":0.018},{"r":570,"v":0.03},{"r":580,"v":0.012},{"r":590,"v":0.02},{"r":600,"v":0.008},{"r":610,"v":0.028},{"r":620,"v":0.014},{"r":630,"v":0.022},{"r":640,"v":0.01},{"r":650,"v":0.032},{"r":660,"v":0.016},{"r":670,"v":0.024},{"r":680,"v":0.012},{"r":690,"v":0.03},{"r":700,"v":0.018},{"r":705,"v":0.035},{"r":710,"v":0.02},{"r":715,"v":0.028},{"r":720,"v":0.01},{"r":725,"v":0.016},{"r":730,"v":0.02}
  ]},
   "mark":{"type":"point","filled":true,"shape":"circle","size":4,"opacity":1,"strokeWidth":0},
   "encoding":{"x":{"field":"r","type":"quantitative"},"y":{"field":"v","type":"quantitative"},"color":{"datum":"p","type":"nominal"}}},
  {"data":{"values":[{"t":"D2O"}]},"mark":{"type":"text","align":"center","baseline":"middle","fontSize":11},"encoding":{"x":{"datum":352,"type":"quantitative"},"y":{"datum":1.02,"type":"quantitative"},"text":{"field":"t"}}},
  {"data":{"values":[{"t":"g"}]},"mark":{"type":"text","align":"left","baseline":"alphabetic","dx":-45,"font":"Liberation Sans","fontSize":15,"fontWeight":"bold","color":"#000000"},"encoding":{"x":{"datum":0,"type":"quantitative"},"y":{"datum":1.077,"type":"quantitative"},"text":{"field":"t"}}}
 ]},
 {"data":{"values":[{"v":0}]},"mark":{"type":"point","opacity":0},"encoding":{"y":{"field":"v","type":"quantitative","axis":{"orient":"left","values":[0,0.05,0.1,0.15,0.2,0.25,0.3,0.35,0.4,0.45,0.5,0.55,0.6,0.65,0.7,0.75,0.8,0.85,0.9,0.95,1],"labels":false,"domain":false,"title":null,"tickSize":3}}}}
 ]
},
{
 "width":73,"height":154,
 "resolve":{"axis":{"y":"independent"}},
 "layer":[
 {"layer":[
  {"data":{"values":[{"c":"Fast"},{"c":"Fed"}]},"mark":{"type":"rule","color":"#c4c4c4","strokeWidth":1.5},
   "encoding":{
    "x":{"field":"c","type":"nominal","scale":{"type":"point","domain":["Fast","Fed"],"range":[0,73],"padding":1.263,"align":0.459},"axis":{"title":null,"labelAngle":-45,"labelAlign":"right","labelBaseline":"middle","labelPadding":6,"ticks":false}},
    "y":{"datum":0,"type":"quantitative","scale":{"domain":[0,67.8],"range":[154,25.9],"nice":false},
     "axis":{"orient":"left","title":"μmol/g liver/day","titleFontSize":11.5,"values":[20,40,60],"tickSize":5}},
    "y2":{"datum":68.3}}},
  {"data":{"values":[{"c":"Fast","lo":0,"hi":23.5},{"c":"Fed","lo":43.8,"hi":64.6}]},"mark":{"type":"rule","strokeWidth":4},
   "encoding":{"x":{"field":"c","type":"nominal"},"y":{"field":"lo","type":"quantitative"},"y2":{"field":"hi"},"color":{"field":"c","type":"nominal","scale":{"domain":["Fast","Fed"],"range":["#000000","#d90000"]},"legend":null}}},
  {"data":{"values":[{"c":"Fast","t":"D20 ornithine\naminotransferase"}]},"mark":{"type":"text","lineBreak":"\n","align":"center","baseline":"middle","dx":7,"fontSize":11,"lineHeight":14},"encoding":{"x":{"field":"c","type":"nominal"},"y":{"datum":87},"text":{"field":"t"}}},
  {"data":{"values":[{"c":"Fast","t":"h"}]},"mark":{"type":"text","align":"left","baseline":"alphabetic","dx":-60,"font":"Liberation Sans","fontSize":15,"fontWeight":"bold","color":"#000000"},"encoding":{"x":{"field":"c","type":"nominal"},"y":{"datum":86.6},"text":{"field":"t"}}}
 ]},
 {"data":{"values":[{"v":0}]},"mark":{"type":"point","opacity":0},"encoding":{"y":{"field":"v","type":"quantitative","axis":{"orient":"left","values":[0,4,8,12,16,20,24,28,32,36,40,44,48,52,56,60,64,68],"labels":false,"domain":false,"title":null,"tickSize":3}}}}
 ]
}
],"spacing":0,"bounds":"flush","resolve":{"scale":{"color":"independent","x":"independent","y":"independent"}}}
]
}
